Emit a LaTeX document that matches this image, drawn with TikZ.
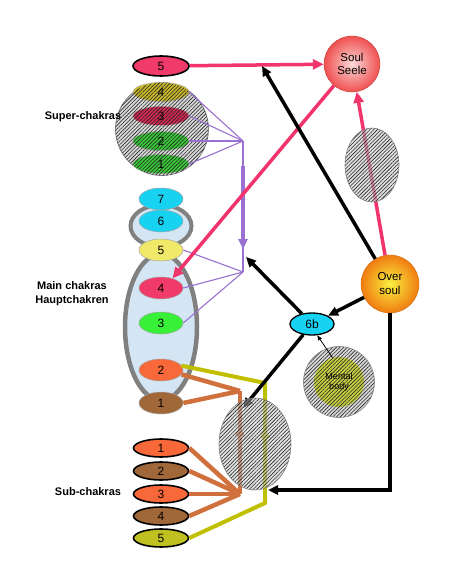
\documentclass[tikz,border=0pt]{standalone}
\usepackage{fontspec}
\setmainfont{Liberation Sans}
\usetikzlibrary{shapes.geometric,arrows.meta,patterns.meta}
\definecolor{pinkred}{HTML}{F03A6A}
\definecolor{pinkline}{HTML}{F2346C}
\definecolor{olivec}{HTML}{C8B828}
\definecolor{crimsonc}{HTML}{D02850}
\definecolor{greenc}{HTML}{38C838}
\definecolor{cyanc}{HTML}{18D2F2}
\definecolor{yellowc}{HTML}{F0E868}
\definecolor{greenm}{HTML}{38F038}
\definecolor{orangec}{HTML}{F86838}
\definecolor{brownc}{HTML}{A06838}
\definecolor{subolive}{HTML}{C0C020}
\definecolor{brownline}{HTML}{D0703C}
\definecolor{yelline}{HTML}{C0C000}
\definecolor{purplec}{HTML}{9A70D0}
\definecolor{lightblue}{HTML}{D4E6F4}
\definecolor{ringgray}{HTML}{808080}
\definecolor{soulin}{HTML}{FCD8D8}
\definecolor{soulout}{HTML}{F05050}
\definecolor{overin}{HTML}{F8F040}
\definecolor{overout}{HTML}{F07C10}
\definecolor{mentalc}{HTML}{C8D040}
\begin{document}
\begin{tikzpicture}[x=1pt,y=-1pt,
  numfont/.style={font=\fontsize{12}{13}\selectfont},
  chm/.style={ellipse, inner sep=0pt, minimum width=44pt, minimum height=22pt, draw=gray!70, line width=0.5pt, numfont},
  chs/.style={ellipse, inner sep=0pt, minimum width=56pt, minimum height=19pt, draw=gray!60, line width=0.5pt, numfont},
  chb/.style={ellipse, inner sep=0pt, minimum width=55pt, minimum height=18pt, draw=black, line width=1.6pt, numfont},
  hatchfill/.style={pattern={Lines[angle=45,distance=2.6pt,line width=0.6pt]}, pattern color=black!85},
  lbl/.style={font=\bfseries\fontsize{11}{13}\selectfont, align=center},
  pinkA/.style={draw=pinkline, line width=3.5pt, -{Triangle[length=11pt,width=10pt]}},
  blkA/.style={draw=black, line width=3.5pt, -{Triangle[length=10pt,width=9pt]}},
  brn/.style={draw=brownline, line width=4.5pt},
  yel/.style={draw=yelline, line width=4pt},
  pur/.style={draw=purplec, line width=1.1pt},
]
\useasboundingbox (0,0) rectangle (454,588);

% ---------- super chakras ----------
\node[circle, minimum size=93pt, inner sep=0pt, fill=gray!30, draw=gray, line width=0.8pt] (hatchS) at (162,129) {};
\node[chs, fill=olivec] (s4) at (161,92) {4};
\node[chs, fill=crimsonc] (s3) at (161,116) {3};
\node[chs, fill=greenc] (s2) at (161,141) {2};
\node[chs, fill=greenc] (s1) at (161,164) {1};
\path[hatchfill] (hatchS.center) circle (46.5);
\node[chb, minimum width=56pt, minimum height=20pt, fill=pinkred] (s5) at (161,66) {5};
\node[lbl] (lsuper) at (83,117) {Super-chakras};

% ---------- main chakras ----------
\node[ellipse, inner sep=0pt, minimum width=61pt, minimum height=42pt, fill=lightblue, draw=ringgray, line width=4pt] (ring) at (161,226) {};
\node[ellipse, inner sep=0pt, minimum width=72pt, minimum height=146pt, fill=lightblue, draw=ringgray, line width=4.5pt] (body) at (161,327) {};
\node[chm, fill=cyanc] (m7) at (161,199) {7};
\node[chm, fill=cyanc] (m6) at (161,221) {6};
\node[chm, fill=yellowc] (m5) at (161,250) {5};
\node[chm, fill=pinkred] (m4) at (161,288) {4};
\node[chm, fill=greenm] (m3) at (161,323) {3};
\node[chm, fill=orangec] (m2) at (161,370) {2};
\node[chm, fill=brownc] (m1) at (161,403) {1};
\node[lbl, font=\bfseries\fontsize{11}{14}\selectfont] (lmain) at (72,294) {Main chakras\\Hauptchakren};

% ---------- sub chakras ----------
\node[chb, fill=orangec] (b1) at (161,448) {1};
\node[chb, fill=brownc] (b2) at (161,471) {2};
\node[chb, fill=orangec] (b3) at (161,494) {3};
\node[chb, fill=brownc] (b4) at (161,516) {4};
\node[chb, fill=subolive] (b5) at (161,538) {5};
\node[lbl] (lsub) at (88,492) {Sub-chakras};

% ---------- souls ----------
\node[circle, minimum size=56pt, inner sep=0pt, inner color=soulin, outer color=soulout, draw=soulout!80!black, line width=0.4pt, align=center, font=\fontsize{11.5}{13}\selectfont] (soul) at (352,64) {Soul\\Seele};
\node[circle, minimum size=58pt, inner sep=0pt, inner color=overin, outer color=overout, draw=overout!85!black, line width=0.4pt, align=center, font=\fontsize{11.5}{14}\selectfont] (over) at (390,284) {Over\\soul};

% ---------- coordinates ----------
\coordinate (pC1) at (243,141);
\coordinate (pA) at (243,166);
\coordinate (pB) at (243,249);
\coordinate (pC2) at (243,272);
\coordinate (pTip) at (246,257);
\coordinate (topTip) at (262,66);
\coordinate (lTip) at (243,408);
\coordinate (lArr) at (268,490);
\coordinate (bConv) at (240,391);
\coordinate (bBot) at (240,494);
\coordinate (bArr) at (240,426);
\coordinate (yTop) at (265,383);
\coordinate (yBot) at (265,503);
\coordinate (yArr) at (265,428);

% ---------- purple connectors ----------
\draw[pur] (s4.east) -- (pC1);
\draw[pur] (s3.east) -- (pC1);
\draw[pur] (s2.east) -- (pC1);
\draw[pur] (s1.east) -- (pC1);
\draw[pur] (pC1) -- (pC2);
\draw[draw=purplec, line width=4pt, -{Triangle[length=10pt,width=9pt]}] (pA) -- (pB);
\draw[pur] (m5.east) -- (pC2);
\draw[pur] (m4.east) -- (pC2);
\draw[pur] (m3.east) -- (pC2);

% ---------- brown / yellow ----------
\draw[yel] (m2.12) -- (yTop) -- (yBot) -- (b5.east);
\draw[yel, -{Triangle[length=10pt,width=9pt]}] (yBot) -- (yArr);
\draw[brn] (m2.-12) -- (bConv);
\draw[brn] (m1.east) -- (bConv);
\draw[brn] (bBot) -- (bConv);
\draw[brn, -{Triangle[length=10pt,width=9pt]}] (bBot) -- (bArr);
\draw[brn] (b1.east) -- (bBot);
\draw[brn] (b2.east) -- (bBot);
\draw[brn] (b3.east) -- (bBot);
\draw[brn] (b4.east) -- (bBot);

% ---------- pink arrows ----------
\draw[pinkA] (s5) -- (soul);
\draw[pinkA] (soul) -- (m4.40);
\draw[pinkA] (over) -- (soul);

% ---------- 6b and mental body ----------
\node[ellipse, inner sep=0pt, minimum width=44pt, minimum height=22pt, fill=cyanc, draw=black, line width=1.3pt, numfont] (sixb) at (312,324) {6b};
\node[circle, minimum size=71pt, inner sep=0pt, preaction={fill=gray!30}, hatchfill, draw=gray, line width=0.6pt] (mental) at (339,382) {};
\node[circle, minimum size=50pt, inner sep=0pt, preaction={fill=mentalc}, hatchfill, align=center, font=\fontsize{9}{10}\selectfont] (mentalIn) at (339,382) {Mental\\body};

% ---------- black arrows ----------
\draw[blkA] (over) -- (topTip);
\draw[blkA] (over) -- (sixb);
\draw[blkA] (sixb) -- (pTip);
\draw[blkA] (sixb) -- (lTip);
\draw[blkA] (over.south) -- (over.south |- lArr) -- (lArr);
\draw[draw=black, line width=0.8pt, -{Triangle[length=5pt,width=4pt]}] (mentalIn.105) -- (sixb.-65);

% ---------- hatched overlays ----------
\node[ellipse, inner sep=0pt, minimum width=54pt, minimum height=74pt, preaction={fill=gray!40, fill opacity=0.6}, hatchfill, draw=gray, line width=0.6pt] (hatchR) at (372,165) {};
\node[ellipse, inner sep=0pt, minimum width=72pt, minimum height=92pt, preaction={fill=gray!40, fill opacity=0.55}, hatchfill, draw=gray, line width=0.6pt] (hatchL) at (255,444) {};
\end{tikzpicture}
\end{document}
